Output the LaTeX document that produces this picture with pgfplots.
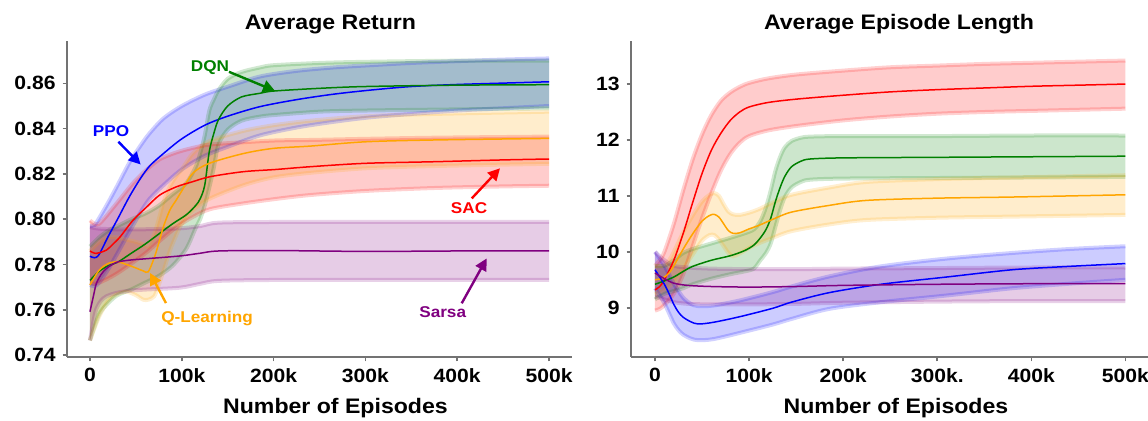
\documentclass[border=0pt]{standalone}
\usepackage{fontspec}
\setmainfont{Liberation Sans}[FakeStretch=1.1]
\usepackage{pgfplots}
\pgfplotsset{compat=1.18}
\usepackage{pgfplotstable}
\usepgfplotslibrary{fillbetween}
\usetikzlibrary{arrows.meta}

\definecolor{cPPO}{RGB}{0,0,255}
\definecolor{cDQN}{RGB}{0,128,0}
\definecolor{cSAC}{RGB}{255,0,0}
\definecolor{cQL}{RGB}{255,165,0}
\definecolor{cSarsa}{RGB}{128,0,128}

% ---- Average Return (x in thousands of episodes): mean, upper, lower
\pgfplotstableread{
x m u d
0 0.7837 0.7970 0.7710
5 0.7830 0.7975 0.7705
10 0.7845 0.8005 0.7720
20 0.7925 0.8075 0.7780
30 0.8000 0.8150 0.7850
43 0.8100 0.8250 0.7945
55 0.8180 0.8325 0.8030
65 0.8235 0.8380 0.8090
80 0.8290 0.8445 0.8150
100 0.8355 0.8500 0.8220
125 0.8415 0.8550 0.8280
150 0.8455 0.8585 0.8320
185 0.8497 0.8630 0.8370
225 0.8528 0.8655 0.8405
265 0.8552 0.8670 0.8430
305 0.8570 0.8680 0.8450
350 0.8586 0.8690 0.8465
400 0.8595 0.8698 0.8480
450 0.8601 0.8705 0.8490
500 0.8607 0.8710 0.8500
}\retPPO
\pgfplotstableread{
x m u d
0 0.7730 0.7880 0.7465
10 0.7770 0.7920 0.7580
20 0.7795 0.7950 0.7630
30 0.7810 0.7970 0.7665
45 0.7850 0.8000 0.7690
60 0.7890 0.8025 0.7720
75 0.7935 0.8060 0.7750
90 0.7980 0.8110 0.7795
105 0.8020 0.8160 0.7870
115 0.8060 0.8230 0.7960
120 0.8090 0.8290 0.8000
125 0.8150 0.8370 0.8060
130 0.8300 0.8480 0.8140
135 0.8380 0.8530 0.8230
140 0.8440 0.8570 0.8330
150 0.8500 0.8620 0.8395
165 0.8540 0.8650 0.8435
185 0.8556 0.8670 0.8453
200 0.8566 0.8680 0.8460
250 0.8578 0.8690 0.8475
300 0.8586 0.8695 0.8480
400 0.8592 0.8700 0.8485
500 0.8594 0.8700 0.8490
}\retDQN
\pgfplotstableread{
x m u d
0 0.7860 0.7995 0.7720
5 0.7850 0.7980 0.7715
10 0.7852 0.7980 0.7720
18 0.7864 0.8015 0.7735
25 0.7890 0.8050 0.7750
33 0.7923 0.8090 0.7770
47 0.7996 0.8160 0.7810
62 0.8055 0.8220 0.7855
76 0.8107 0.8265 0.7905
94 0.8143 0.8295 0.7965
112 0.8166 0.8315 0.8010
131 0.8188 0.8330 0.8045
167 0.8210 0.8340 0.8070
203 0.8220 0.8348 0.8090
240 0.8232 0.8350 0.8107
300 0.8247 0.8355 0.8125
375 0.8254 0.8360 0.8138
450 0.8262 0.8363 0.8145
500 0.8266 0.8365 0.8148
}\retSAC
\pgfplotstableread{
x m u d
0 0.7710 0.7860 0.7465
10 0.7775 0.7900 0.7570
20 0.7805 0.7920 0.7640
30 0.7812 0.7920 0.7670
40 0.7800 0.7910 0.7680
50 0.7785 0.7900 0.7665
58 0.7772 0.7890 0.7645
63.5 0.7768 0.7880 0.7645
70 0.7830 0.7935 0.7660
75 0.7895 0.8000 0.7710
80 0.7967 0.8075 0.7770
87 0.8040 0.8145 0.7860
94 0.8085 0.8190 0.7930
100 0.8125 0.8220 0.7980
112 0.8203 0.8290 0.8040
130 0.8247 0.8345 0.8090
167 0.8290 0.8390 0.8150
200 0.8313 0.8415 0.8185
240 0.8323 0.8435 0.8205
300 0.8342 0.8455 0.8225
375 0.8350 0.8465 0.8235
500 0.8357 0.8475 0.8245
}\retQL
\pgfplotstableread{
x m u d
0 0.7592 0.7965 0.7465
4 0.7665 0.7962 0.7555
7 0.7717 0.7960 0.7605
12 0.7755 0.7958 0.7640
18 0.7783 0.7957 0.7660
29 0.7810 0.7955 0.7675
44 0.7820 0.7955 0.7685
62 0.7826 0.7956 0.7690
98 0.7838 0.7960 0.7698
120 0.7850 0.7970 0.7715
140 0.7860 0.7985 0.7728
200 0.7862 0.7988 0.7732
300 0.7858 0.7988 0.7732
400 0.7860 0.7988 0.7732
500 0.7860 0.7988 0.7732
}\retSarsa

% ---- Average Episode Length
\pgfplotstableread{
x m u d
0 9.68 10.00 9.35
5 9.55 9.88 9.22
10 9.42 9.75 9.08
15 9.25 9.60 8.90
20 9.06 9.43 8.72
25 8.92 9.30 8.60
30 8.83 9.18 8.52
38 8.75 9.07 8.45
46 8.71 9.03 8.42
62 8.74 9.04 8.44
90 8.84 9.13 8.55
125 8.99 9.28 8.70
145 9.10 9.38 8.80
185 9.27 9.56 8.98
240 9.42 9.74 9.10
310 9.55 9.88 9.22
380 9.68 9.98 9.35
440 9.74 10.05 9.43
500 9.79 10.10 9.50
}\lenPPO
\pgfplotstableread{
x m u d
0 9.42 9.75 9.15
10 9.48 9.75 9.25
20 9.55 9.85 9.30
30 9.65 9.98 9.35
40 9.74 10.05 9.42
60 9.85 10.15 9.52
80 9.93 10.25 9.60
95 10.02 10.33 9.65
105 10.12 10.40 9.70
112 10.25 10.55 9.85
118 10.40 10.80 9.98
123 10.60 11.10 10.15
128 10.90 11.45 10.45
133 11.15 11.70 10.75
138 11.35 11.87 10.98
145 11.52 11.98 11.15
155 11.62 12.04 11.25
165 11.66 12.06 11.29
200 11.68 12.07 11.31
300 11.69 12.07 11.32
400 11.70 12.08 11.33
500 11.71 12.08 11.34
}\lenDQN
\pgfplotstableread{
x m u d
0 9.32 9.75 8.95
5 9.38 9.85 8.98
10 9.50 10.00 9.05
20 9.85 10.50 9.25
30 10.33 11.10 9.60
40 10.88 11.65 10.10
50 11.40 12.10 10.60
60 11.82 12.45 11.05
70 12.12 12.70 11.45
80 12.35 12.85 11.75
90 12.50 12.95 11.95
100 12.59 13.02 12.07
120 12.67 13.10 12.17
150 12.73 13.17 12.25
200 12.80 13.24 12.35
250 12.86 13.30 12.42
300 12.90 13.33 12.47
350 12.93 13.36 12.50
400 12.96 13.38 12.52
450 12.98 13.40 12.54
500 13.00 13.42 12.56
}\lenSAC
\pgfplotstableread{
x m u d
0 9.50 9.75 9.25
8 9.53 9.75 9.30
15 9.62 9.85 9.38
20 9.75 10.00 9.45
30 10.05 10.35 9.70
40 10.32 10.65 9.95
50 10.55 10.90 10.20
58 10.65 11.02 10.30
63 10.67 11.05 10.30
68 10.62 11.00 10.22
73 10.50 10.85 10.10
78 10.38 10.72 9.98
83 10.33 10.67 9.92
90 10.34 10.66 9.97
100 10.41 10.70 10.07
110 10.47 10.76 10.15
125 10.58 10.88 10.25
145 10.71 11.02 10.37
185 10.83 11.15 10.49
225 10.92 11.25 10.57
300 10.96 11.30 10.61
380 10.98 11.33 10.63
500 11.02 11.37 10.66
}\lenQL
\pgfplotstableread{
x m u d
0 9.62 10.00 9.20
10 9.52 9.85 9.15
20 9.44 9.75 9.10
35 9.40 9.72 9.07
60 9.38 9.70 9.06
100 9.37 9.69 9.06
150 9.38 9.69 9.07
200 9.40 9.70 9.09
300 9.42 9.71 9.11
400 9.43 9.72 9.12
500 9.43 9.72 9.12
}\lenSarsa

\newcommand{\band}[3]{%
  \addplot[name path=#3u, draw=#2, draw opacity=0.18, line width=2pt, smooth] table[x=x,y=u]{#1};
  \addplot[name path=#3d, draw=#2, draw opacity=0.18, line width=2pt, smooth] table[x=x,y=d]{#1};
  \addplot[fill=#2, fill opacity=0.2, draw=none] fill between[of=#3u and #3d];
}
\newcommand{\meanline}[2]{%
  \addplot[draw=#2, line width=0.75pt, smooth] table[x=x,y=m]{#1};
}

\tikzset{annot/.style={font=\bfseries\fontsize{7.8}{9}\selectfont}}

\pgfplotsset{
  rlstyle/.style={
    scale only axis,
    axis x line*=bottom, axis y line*=left,
    axis line style={draw=black!55, line width=0.9pt, -},
    tick style={draw=black!55, line width=0.8pt},
    tick align=outside, major tick length=2.2pt,
    xtick={0,100,200,300,400,500},
    ticklabel style={font=\bfseries\fontsize{9.6}{11}\selectfont},
    /pgf/number format/assume math mode=true,
    xlabel={Number of Episodes},
    xlabel style={font=\bfseries\fontsize{10.5}{12}\selectfont,
      at={(axis description cs:0.5,0)}, anchor=center, yshift=-25.5pt},
    title style={font=\bfseries\fontsize{10.5}{12}\selectfont,
      at={(0.5,1)}, anchor=south, yshift=-6pt},
    height=158pt,
  },
}

\begin{document}
\begin{tikzpicture}

\begin{axis}[rlstyle, at={(33.5pt,32pt)}, anchor=south west, width=252.5pt,
  xmin=-25, xmax=525, ymin=0.7392, ymax=0.8787,
  xticklabels={0,100k,200k,300k,400k,500k},
  ytick={0.74,0.76,0.78,0.80,0.82,0.84,0.86},
  yticklabels={0.74,0.76,0.78,0.80,0.82,0.84,0.86},
  title={Average Return},
  title style={xshift=5.5pt}, xlabel style={xshift=8pt}]
  \band{\retPPO}{cPPO}{rp}
  \band{\retDQN}{cDQN}{rd}
  \band{\retQL}{cQL}{rq}
  \band{\retSAC}{cSAC}{rs}
  \band{\retSarsa}{cSarsa}{ra}
  \meanline{\retPPO}{cPPO}
  \meanline{\retDQN}{cDQN}
  \meanline{\retQL}{cQL}
  \meanline{\retSAC}{cSAC}
  \meanline{\retSarsa}{cSarsa}
  \node[annot, text=cPPO] at (axis cs:22.9,0.8389) {PPO};
  \draw[cPPO, line width=1.2pt, -{Triangle[length=6pt,width=6pt]}] (axis cs:31,0.8342) -- (axis cs:55.2,0.8242);
  \node[annot, text=cDQN] at (axis cs:130.7,0.8668) {DQN};
  \draw[cDQN, line width=1.2pt, -{Triangle[length=6pt,width=6pt]}] (axis cs:151.4,0.8651) -- (axis cs:201.5,0.8567);
  \node[annot, text=cSAC] at (axis cs:412.9,0.8049) {SAC};
  \draw[cSAC, line width=1.2pt, -{Triangle[length=6pt,width=6pt]}] (axis cs:415.8,0.8092) -- (axis cs:446.6,0.8225);
  \node[annot, text=cQL] at (axis cs:127.5,0.7564) {Q-Learning};
  \draw[cQL, line width=1.2pt, -{Triangle[length=6pt,width=6pt]}] (axis cs:82.8,0.7630) -- (axis cs:65.4,0.7763);
  \node[annot, text=cSarsa] at (axis cs:384.2,0.7592) {Sarsa};
  \draw[cSarsa, line width=1.2pt, -{Triangle[length=6pt,width=6pt]}] (axis cs:404.9,0.7629) -- (axis cs:432.1,0.7827);
\end{axis}

\begin{axis}[rlstyle, at={(315.5pt,32pt)}, anchor=south west, width=259pt,
  xmin=-25.5, xmax=525, ymin=8.12, ymax=13.77,
  xticklabels={0,100k,200k,300k.,400k,500k},
  ytick={9,10,11,12,13},
  yticklabels={9,10,11,12,13},
  title={Average Episode Length},
  title style={xshift=4.5pt}, xlabel style={xshift=3pt}]
  \band{\lenSAC}{cSAC}{ls}
  \band{\lenDQN}{cDQN}{ld}
  \band{\lenQL}{cQL}{lq}
  \band{\lenPPO}{cPPO}{lp}
  \band{\lenSarsa}{cSarsa}{la}
  \meanline{\lenSAC}{cSAC}
  \meanline{\lenDQN}{cDQN}
  \meanline{\lenQL}{cQL}
  \meanline{\lenPPO}{cPPO}
  \meanline{\lenSarsa}{cSarsa}
\end{axis}

\pgfresetboundingbox
\useasboundingbox (0,0) rectangle (574pt,210.5pt);
\end{tikzpicture}
\end{document}
